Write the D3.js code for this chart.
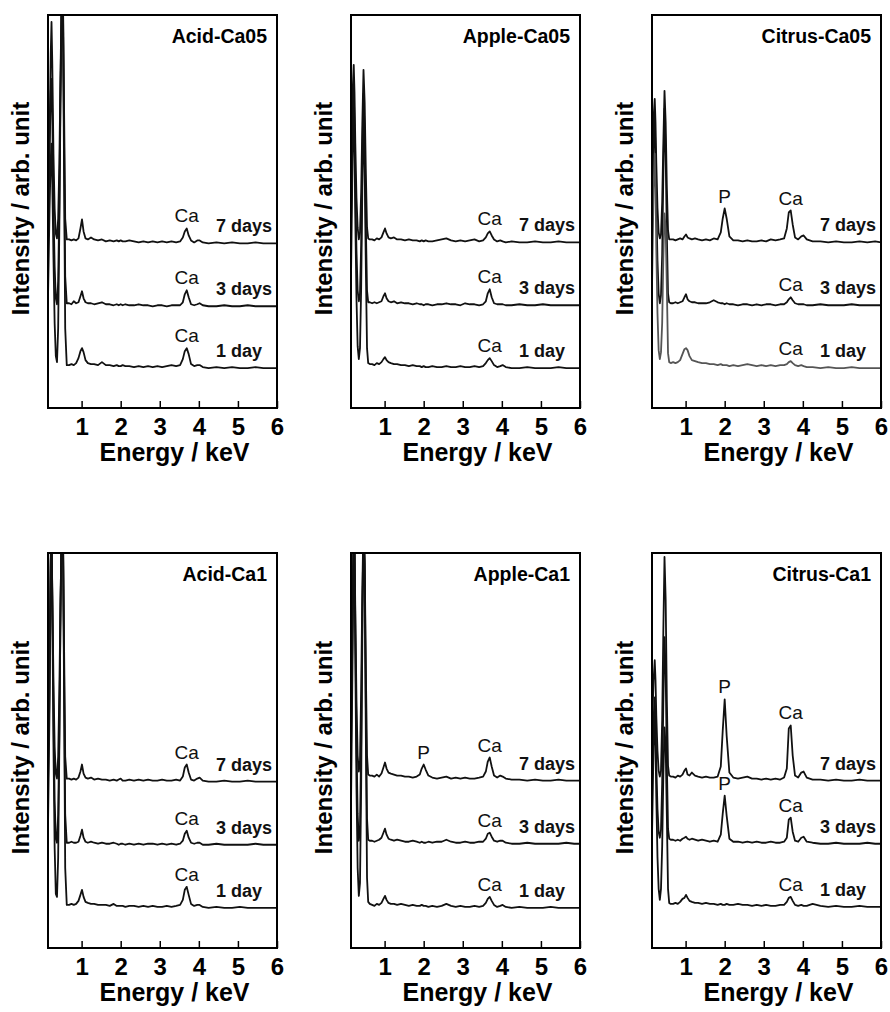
<!DOCTYPE html>
<html>
<head>
<meta charset="utf-8">
<script src="https://cdn.jsdelivr.net/npm/d3@7"></script>
<style>
  body { margin: 0; background: #fff; }
  svg { display: block; }
  text { font-family: "Liberation Sans", Arial, sans-serif; }
</style>
</head>
<body>
<svg id="chart" width="890" height="1012"></svg>
<script>
// energy grid (keV), shared by every spectrum
const energy = [0.14,0.18,0.21,0.23,0.25,0.28,0.31,0.34,0.37,0.40,0.43,0.46,0.49,0.52,0.55,0.58,0.62,
  0.68,0.74,0.80,0.86,0.92,0.97,
  1.01,1.05,1.10,1.16,1.24,1.32,1.42,1.52,1.62,1.72,1.82,1.90,1.95,
  2.00,2.05,2.12,2.22,2.34,2.46,2.58,2.70,2.82,2.94,
  3.06,3.18,3.30,3.42,3.52,3.59,3.64,3.69,3.74,3.80,3.88,3.96,
  4.02,4.10,4.25,4.45,4.65,4.85,5.05,5.25,5.45,5.65,5.85,6.00];

const panelNames = ["Acid-Ca05", "Apple-Ca05", "Citrus-Ca05", "Acid-Ca1", "Apple-Ca1", "Citrus-Ca1"];
const dayLabels = ["7 days", "3 days", "1 day"];
const xTicks = [1, 2, 3, 4, 5, 6];

// vertical offset of each stacked spectrum (arb. unit), order 7d, 3d, 1d
const offsets = [[165,102,40],[166,103,40],[166,103,40],[166,103,40],[167,104,40],[167,104,41]];

// element lines marked above the peaks
const lineEnergy = { P: 2.0, Ca: 3.69 };
const peakNames = [
  [["Ca"], ["Ca"], ["Ca"]],
  [["Ca"], ["Ca"], ["Ca"]],
  [["P", "Ca"], ["Ca"], ["Ca"]],
  [["Ca"], ["Ca"], ["Ca"]],
  [["P", "Ca"], ["Ca"], ["Ca"]],
  [["P", "Ca"], ["P", "Ca"], ["Ca"]]
];

// intensities above offset (arb. unit)
const acidCa05_7d = [40,110,190,222,180,90,35,10,5,25,80,170,250,262,140,25,4,
  4,3,4,3,5,15, 24,12,5,4,6,4,3,4,2,3,2,3,2, 3,2,2,3,2,1,2,1,2,1, 2,1,2,1,2,6,12,15,8,3,1,3, 3,1,0,1,0,1,0,0,1,0,0,0];
const acidCa05_3d = [60,150,215,228,190,100,40,8,2,25,100,220,310,320,170,30,3,
  3,2,5,3,4,10, 15,8,4,3,3,2,3,4,2,2,1,2,1, 2,1,2,1,1,2,1,1,0,1, 1,0,1,1,1,4,12,16,9,2,1,2, 3,1,0,0,1,0,0,1,0,0,0,0];
const acidCa05_1d = [70,160,210,225,185,110,45,12,6,40,140,270,360,375,200,40,3,
  3,4,3,5,10,17, 20,16,8,5,4,4,3,6,3,3,2,3,2, 2,3,2,2,1,2,1,2,1,2, 1,2,3,2,3,9,17,20,14,4,2,3, 3,1,0,1,0,1,0,0,1,0,0,0];

const appleCa05_7d = [70,150,178,150,100,45,15,3,10,50,120,173,140,70,15,4,3,
  3,2,4,3,5,10, 14,9,5,4,5,3,3,2,3,2,2,1,2, 1,2,1,1,2,3,4,2,1,2, 1,2,3,1,2,5,9,11,7,3,1,2, 1,0,1,0,0,1,0,0,1,0,0,0];
const appleCa05_3d = [80,180,217,180,120,55,15,4,12,60,150,212,170,80,15,3,3,
  2,3,2,3,4,9, 12,7,4,3,4,2,3,2,2,1,2,1,1, 0,1,1,0,1,1,2,1,1,0, 2,1,1,0,1,4,12,16,8,2,1,1, 1,0,0,1,0,0,1,0,0,0,0,0];
const appleCa05_1d = [90,210,260,220,150,70,22,9,20,80,180,250,200,100,20,5,4,
  4,3,5,4,6,9, 11,8,6,5,4,4,3,3,2,3,2,2,1, 2,1,1,2,1,1,2,1,1,2, 1,1,2,1,2,5,8,10,7,3,1,2, 3,1,0,0,1,0,0,0,1,0,0,0];

const citrusCa05_7d = [60,125,144,120,80,35,10,4,8,40,100,152,120,55,12,3,3,
  3,2,3,4,3,6, 8,5,4,3,4,3,2,3,2,4,3,10,24, 34,24,6,2,2,1,2,1,1,2, 1,3,2,3,4,14,30,32,18,5,3,6, 7,3,1,1,0,1,0,0,1,0,1,0];
const citrusCa05_3d = [70,160,187,150,100,45,12,2,10,50,130,197,150,70,12,3,2,
  2,3,2,3,4,8, 11,6,4,3,3,2,2,2,3,5,3,2,2, 1,2,1,1,0,1,1,0,1,0, 1,1,0,1,1,3,6,8,5,2,1,1, 1,0,0,1,0,0,0,1,0,0,0,0];
const citrusCa05_1d = [80,180,215,180,120,55,18,9,16,45,110,155,140,80,15,6,5,
  6,5,6,8,14,19, 20,18,12,8,7,6,5,5,4,4,3,4,3, 3,3,2,3,2,3,4,3,2,3, 2,3,2,3,3,4,6,7,5,3,2,3, 2,1,1,0,1,0,0,1,0,0,0,0];

const acidCa1_7d = [50,130,220,240,190,100,35,8,3,25,90,180,250,262,140,25,3,
  3,2,3,2,4,10, 17,8,4,3,4,2,3,2,2,1,2,1,2, 3,1,1,2,1,2,1,2,1,1, 2,1,1,2,1,5,14,17,9,2,1,3, 4,1,0,0,1,0,0,1,0,0,0,0];
const acidCa1_3d = [60,160,290,320,250,130,45,6,2,30,110,230,320,330,180,30,2,
  2,3,2,2,3,9, 15,7,3,2,3,2,1,2,1,1,2,1,0, 1,1,0,1,0,1,0,1,1,0, 1,0,1,0,1,4,11,14,7,2,1,2, 2,0,0,1,0,0,0,0,1,0,0,0];
const acidCa1_1d = [80,200,340,385,300,160,60,14,11,50,160,300,390,400,220,40,3,
  3,4,3,4,7,13, 18,11,6,5,4,4,3,3,3,2,4,2,2, 2,2,1,2,2,1,2,1,2,1, 1,2,1,2,3,8,18,21,13,4,2,3, 3,1,0,1,0,0,1,0,0,0,0,0];

const appleCa1_7d = [70,180,260,240,170,80,25,9,20,90,190,260,220,110,25,6,5,
  5,4,6,4,7,13, 18,12,8,7,6,5,5,4,4,3,4,6,12, 16,11,5,3,2,3,4,2,3,2, 3,2,2,3,4,9,19,23,14,5,3,5, 4,2,1,1,0,1,0,0,1,0,0,0];
const appleCa1_3d = [90,220,320,300,220,100,30,3,15,100,230,320,280,140,25,4,3,
  3,2,3,4,6,11, 15,9,5,4,3,4,3,2,2,3,2,1,2, 1,1,2,1,2,2,4,2,1,1, 2,1,1,2,2,5,10,11,7,3,2,3, 3,1,0,0,1,0,0,0,0,1,0,0];
const appleCa1_1d = [100,250,380,350,250,120,40,12,25,120,270,380,330,170,30,6,4,
  3,2,4,3,5,9, 12,8,5,4,4,3,4,3,2,3,2,2,3, 2,2,1,2,1,2,4,2,1,2, 1,1,2,1,2,5,9,11,7,3,1,2, 3,1,0,1,0,0,0,1,0,0,0,0];

const citrusCa1_7d = [50,100,120,100,65,30,10,4,10,60,150,223,180,80,15,5,4,
  4,3,5,4,6,10, 12,6,5,8,5,4,3,4,3,3,4,14,50, 81,45,8,3,2,3,4,2,2,1, 2,1,2,1,3,12,52,55,25,5,3,8, 9,3,1,1,0,1,0,0,1,0,0,0];
const citrusCa1_3d = [60,125,146,120,80,35,12,6,14,60,140,206,170,80,15,5,4,
  4,3,4,3,5,6, 7,5,4,5,4,3,4,3,2,3,2,9,30, 48,28,5,2,2,1,2,1,2,1, 1,2,1,1,2,6,24,26,12,3,2,6, 7,2,1,0,0,1,0,0,0,1,0,0];
const citrusCa1_1d = [70,160,189,160,110,50,18,7,18,60,130,179,160,90,18,4,3,
  3,4,3,5,8,9, 12,9,6,5,4,4,3,4,3,3,2,3,2, 2,3,2,2,3,2,2,1,2,1, 2,1,1,2,2,5,9,10,6,2,1,2, 1,1,3,1,0,1,0,0,1,0,0,0];

const spectra = [
  [acidCa05_7d, acidCa05_3d, acidCa05_1d],
  [appleCa05_7d, appleCa05_3d, appleCa05_1d],
  [citrusCa05_7d, citrusCa05_3d, citrusCa05_1d],
  [acidCa1_7d, acidCa1_3d, acidCa1_1d],
  [appleCa1_7d, appleCa1_3d, appleCa1_1d],
  [citrusCa1_7d, citrusCa1_3d, citrusCa1_1d]
];

// layout
const colLeft = [48, 351, 652];
const panelW = 229;
const rowTop = [15, 553];
const panelH = [393, 395];

const svg = d3.select("#chart");
const defs = svg.append("defs");

panelNames.forEach((name, p) => {
  const col = p % 3, row = Math.floor(p / 3);
  const left = colLeft[col], top = rowTop[row], h = panelH[row];

  const x = d3.scaleLinear().domain([0.14, 6]).range([left, left + panelW]);
  const y = d3.scaleLinear().domain([0, 394]).range([top + h, top]);
  const line = d3.line().x(d => x(d[0])).y(d => y(d[1]));

  defs.append("clipPath").attr("id", "clip" + p)
    .append("rect")
    .attr("x", left).attr("y", top)
    .attr("width", panelW).attr("height", h);

  const g = svg.append("g");

  spectra[p].forEach((vals, k) => {
    const pts = d3.zip(energy, vals).map(([e, v]) => [e, v + offsets[p][k]]);
    // Citrus-Ca05 1 day trace is printed lighter
    const color = (p === 2 && k === 2) ? "#555" : "#111";

    g.append("path")
      .attr("clip-path", `url(#clip${p})`)
      .attr("d", line(pts))
      .attr("fill", "none")
      .attr("stroke", color)
      .attr("stroke-width", 1.8)
      .attr("stroke-linejoin", "round");

    const last = pts[pts.length - 1];
    g.append("text")
      .attr("x", left + panelW - 61)
      .attr("y", y(last[1]) - 11)
      .attr("font-size", 18)
      .attr("font-weight", "bold")
      .attr("fill", "#111")
      .text(dayLabels[k]);

    peakNames[p][k].forEach(el => {
      const e0 = lineEnergy[el];
      const top_ = d3.max(pts.filter(d => Math.abs(d[0] - e0) < 0.12), d => d[1]);
      g.append("text")
        .attr("x", x(e0))
        .attr("y", y(top_) - 6)
        .attr("text-anchor", "middle")
        .attr("font-size", 19)
        .attr("fill", "#111")
        .text(el);
    });
  });

  // ticks pointing inward from the bottom edge
  const axis = g.append("g")
    .attr("transform", `translate(0,${top + h})`)
    .call(d3.axisBottom(x).tickValues(xTicks).tickFormat(d3.format("d"))
      .tickSizeInner(-7).tickSizeOuter(0).tickPadding(10));
  axis.select(".domain").remove();
  axis.selectAll(".tick line").attr("stroke", "#000").attr("stroke-width", 1.5);
  axis.selectAll(".tick text")
    .attr("font-size", 24)
    .attr("font-weight", "bold")
    .attr("font-family", '"Liberation Sans", Arial, sans-serif')
    .attr("fill", "#000");

  g.append("rect")
    .attr("x", left).attr("y", top)
    .attr("width", panelW).attr("height", h)
    .attr("fill", "none")
    .attr("stroke", "#000")
    .attr("stroke-width", 2);

  g.append("text")
    .attr("x", left + panelW - 10)
    .attr("y", top + 28)
    .attr("text-anchor", "end")
    .attr("font-size", 19.5)
    .attr("font-weight", "bold")
    .text(name);

  g.append("text")
    .attr("x", left + panelW / 2 + 12)
    .attr("y", top + h + 53)
    .attr("text-anchor", "middle")
    .attr("font-size", 25)
    .attr("font-weight", "bold")
    .text("Energy / keV");

  g.append("text")
    .attr("transform", `translate(${left - 19},${top + h / 2 - 3}) rotate(-90)`)
    .attr("text-anchor", "middle")
    .attr("font-size", 24)
    .attr("font-weight", "bold")
    .text("Intensity / arb. unit");
});
</script>
</body>
</html>
